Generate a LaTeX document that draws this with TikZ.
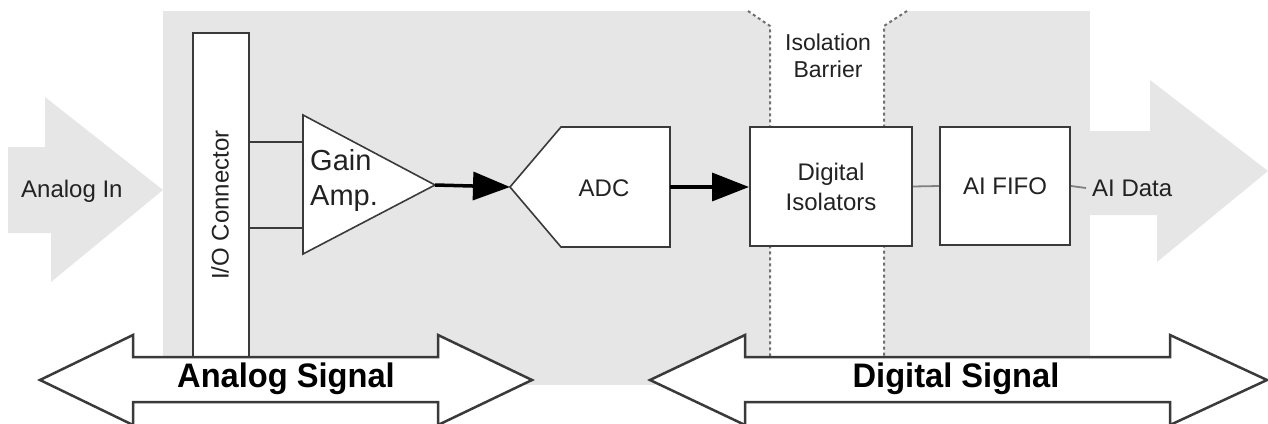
\documentclass[tikz,border=0pt]{standalone}
\usepackage{fontspec}
\setmainfont{Liberation Sans}
\newfontfamily\condfont[FakeStretch=0.96]{Liberation Sans}
\usetikzlibrary{arrows.meta}
\definecolor{bggray}{HTML}{E6E6E6}
\definecolor{linegray}{HTML}{3A3A3A}
\definecolor{dotgray}{HTML}{707070}
\definecolor{txt}{HTML}{222222}
\tikzset{
  blockbox/.style={draw=linegray, line width=2, fill=white, text=txt, align=center, inner sep=0, font=\fontsize{24}{30}\selectfont},
  shapeline/.style={draw=linegray, line width=1.6, fill=white},
  wire/.style={draw=linegray, line width=2.2},
  thinwire/.style={draw=gray, line width=1.8},
  bigarrow/.style={line width=3.5, black, -{Triangle[length=37, width=28]}},
  barrier/.style={draw=dotgray, line width=2, dash pattern=on 3 off 3},
  lbl/.style={text=txt, inner sep=0, font=\fontsize{24}{30}\selectfont},
  sigarrow/.style={draw=linegray, line width=2.5, fill=white},
  siglbl/.style={text=black, inner sep=0, font=\condfont\bfseries\fontsize{34}{40}\selectfont},
}
\begin{document}
\begin{tikzpicture}[x=1pt,y=-1pt]
\useasboundingbox (0,0) rectangle (1268,423);
% background
\fill[bggray] (163,11) rectangle (1090,385);
% isolation barrier band
\fill[white] (748,11) -- (770,26) -- (770,360) -- (884,360) -- (884,26) -- (907,11) -- cycle;
\draw[barrier] (748,11) -- (770,26) -- (770,358);
\draw[barrier] (907,11) -- (884,26) -- (884,358);
\node[lbl, align=center, font=\fontsize{23}{27}\selectfont] (barrierlbl) at (828,56) {Isolation\\Barrier};
% input/output big arrows
\fill[bggray] (8,147) -- (45,147) -- (45,97) -- (163,190) -- (51,282) -- (51,233) -- (8,233) -- cycle;
\node[lbl, anchor=west] (analogin) at (21,191) {Analog In};
\fill[bggray] (1085,131) -- (1150,131) -- (1150,80) -- (1268,171) -- (1157,262) -- (1157,215) -- (1085,215) -- cycle;
% I/O connector
\node[blockbox, line width=1.6, minimum width=56, minimum height=330, anchor=north west] (io) at (192,32) {};
\node[lbl, rotate=90] (iolbl) at (220,205) {I/O Connector};
% gain amp
\draw[shapeline] (303,115) -- (435,185) -- (303,254) -- cycle;
\coordinate (ampin1) at (303,142);
\coordinate (ampin2) at (303,228);
\coordinate (ampout) at (435,185);
\node[lbl, align=left, anchor=west, font=\fontsize{29}{35}\selectfont] (amplbl) at (310,180) {Gain\\Amp.};
\draw[wire] (io.east |- ampin1) -- (ampin1);
\draw[wire] (io.east |- ampin2) -- (ampin2);
% ADC
\draw[shapeline] (510,187) -- (561,127) -- (670,127) -- (670,247) -- (561,247) -- cycle;
\coordinate (adcin) at (510,187);
\coordinate (adcout) at (670,187);
\node[lbl] (adclbl) at (604,188) {ADC};
\draw[bigarrow] (ampout) -- (adcin);
% digital isolators
\node[blockbox, minimum width=162, minimum height=119] (iso) at (831,186.5) {Digital\\Isolators};
\draw[bigarrow] (adcout) -- (iso.west |- adcout);
% AI FIFO
\node[blockbox, minimum width=130, minimum height=118] (fifo) at (1005,186) {AI FIFO};
\draw[thinwire] (iso.east) -- (fifo.west);
\node[lbl, anchor=west] (aidata) at (1092,188) {AI Data};
\draw[thinwire] (fifo.east) -- ([xshift=-6]aidata.west);
% bottom signal arrows
\draw[sigarrow] (40,380) -- (133,335) -- (133,357) -- (438,357) -- (438,335) -- (532,380) -- (438,425) -- (438,402) -- (133,402) -- (133,425) -- cycle;
\node[siglbl] (analogsig) at (286,379) {Analog Signal};
\draw[sigarrow] (650,380) -- (745,335) -- (745,357) -- (1170,357) -- (1170,335) -- (1267,380) -- (1170,425) -- (1170,402) -- (745,402) -- (745,425) -- cycle;
\node[siglbl] (digitalsig) at (956,379) {Digital Signal};
\end{tikzpicture}
\end{document}
